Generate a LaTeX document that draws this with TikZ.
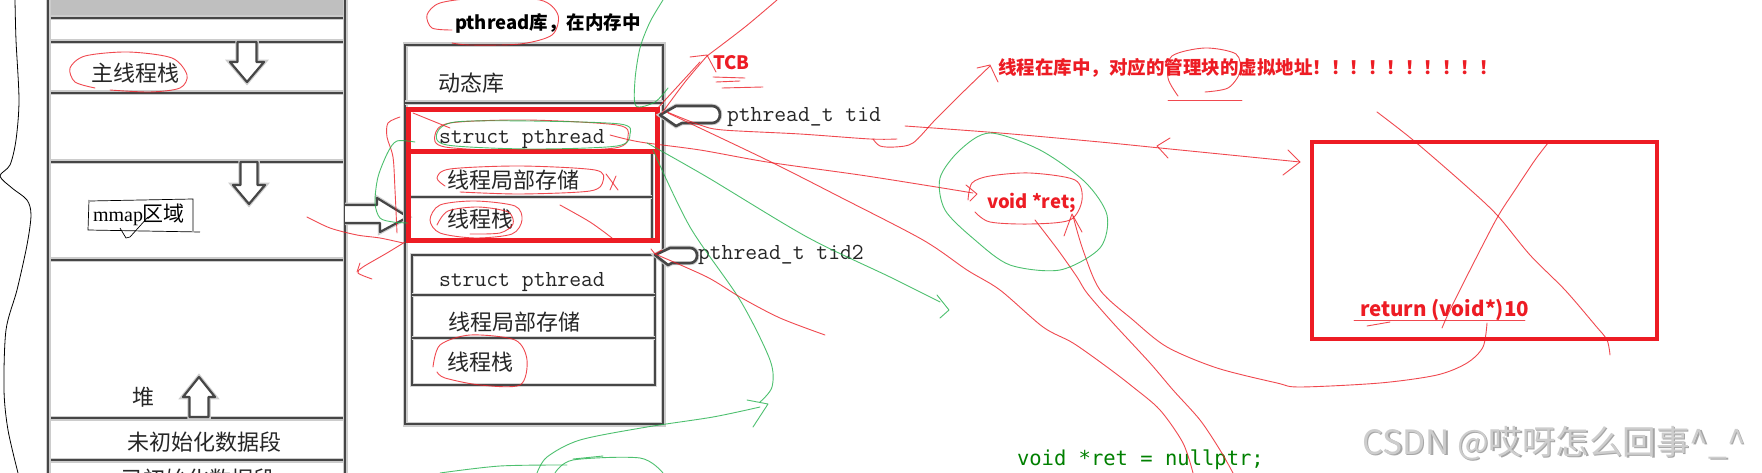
\documentclass[tikz,border=0pt]{standalone}
\usepackage{fontspec}
\newfontfamily\cjk{Noto Sans CJK SC}
\newfontfamily\serifx{Liberation Serif}
\newfontfamily\codefont{DejaVu Sans Mono}
\definecolor{pred}{RGB}{237,28,36}
\definecolor{pgreen}{RGB}{34,177,76}
\definecolor{skc}{RGB}{70,70,70}
\definecolor{codegreen}{RGB}{0,128,0}
\definecolor{wm}{RGB}{205,205,205}
\begin{document}
\begin{tikzpicture}[x=1pt,y=-1pt,
  sk/.style={draw=skc, line width=2.2pt, preaction={draw=black!20, line width=5pt}},
  skthin/.style={draw=skc, line width=1.5pt, preaction={draw=black!16, line width=3.6pt}},
  rp/.style={draw=pred, line width=0.9pt, opacity=0.8, line cap=round, line join=round},
  gp/.style={draw=pgreen, line width=0.9pt, opacity=0.8, line cap=round, line join=round},
  blk/.style={draw=skc, line width=2.2pt, fill=white, line join=round, preaction={draw=black!20, line width=4.5pt}},
  tx/.style={inner sep=0pt, outer sep=0pt},
  zh/.style={tx, font=\cjk\fontsize{22}{24}\selectfont, text=black!85},
  mono/.style={tx, anchor=west, font=\ttfamily\fontsize{23}{25}\selectfont, text=black!85},
  redb/.style={tx, anchor=west, font=\cjk\bfseries\fontsize{18.5}{20}\selectfont, text=pred}
]
\useasboundingbox (0,0) rectangle (1762,473);
\clip (0,0) rectangle (1762,473);
\fill[white] (0,0) rectangle (1762,473);

% ---------- brace ----------
\draw[black, line width=0.8pt] plot[smooth] coordinates {(15,0) (16,40) (19,100) (16,140) (10,165) (0,176) (12,188) (27,200) (31,215) (27,245) (17,290) (6,330) (4,390) (8,430) (18,473)};

% ---------- left column ----------
\fill[black!25] (48,0) rectangle (345,16);
\foreach \yy in {18,42,93,162,260,418,460} \draw[sk] (48,\yy) -- (345,\yy);
\draw[sk] (48,0) -- (48,473);
\draw[sk] (345,0) -- (345,473);

\node[zh] (zxcz) at (135,73) {主线程栈};
\node[tx] (mmap) at (139,215) {{\serifx\fontsize{20}{21}\selectfont mmap}{\cjk\fontsize{21}{22}\selectfont 区域}};
\node[zh] (dui) at (143,397) {堆};
\node[zh] (wcs) at (204,442) {未初始化数据段};
\node[zh] (ycs) at (198,479) {已初始化数据段};

% block arrows
\draw[blk] (237.5,42) -- (256.5,42) -- (256.5,62) -- (264,62) -- (247,82) -- (230,62) -- (237.5,62) -- cycle;
\draw[blk] (240.5,162) -- (257.5,162) -- (257.5,185) -- (265,185) -- (249,204) -- (233,185) -- (240.5,185) -- cycle;
\draw[blk] (189.5,417) -- (208.5,417) -- (208.5,397) -- (215,397) -- (199,377) -- (183,397) -- (189.5,397) -- cycle;
\draw[blk] (345,205) -- (377,205) -- (377,198) -- (408,217) -- (380,232) -- (380,223) -- (345,223);

% mmap box scribble
\draw[black, line width=0.7pt] (90,201) -- (193,199) -- (193,231);
\draw[black, line width=0.7pt] (89,200) -- (88,230) -- (200,232);
\draw[black, line width=0.7pt] (120,228) -- (126,238) -- (130,237) -- (148,217);

% red ellipse main stack
\draw[rp] plot[smooth] coordinates {(95,88) (75,82) (70,68) (85,56) (128,52) (172,58) (187,75) (180,88) (150,92) (110,90)};

% ---------- middle box ----------
\draw[sk] (405,45) rectangle (663,424);
\draw[sk] (405,103) -- (663,103);
\node[zh, anchor=west] (dtk) at (438,83) {动态库};

\draw[skthin] (652,152) -- (652,240);
\draw[skthin] (411,197) -- (652,197);
\draw[pred, line width=5pt] (408,110) rectangle (657,241);
\draw[pred, line width=5pt] (408,152) -- (655,152);

\node[mono] (sp1) at (439,139) {struct pthread};
\node[zh, anchor=west] (tls1) at (447,180) {线程局部存储};
\node[zh, anchor=west] (stk1) at (447,219) {线程栈};

\draw[skthin] (412,255) rectangle (655,385);
\draw[skthin] (412,295) -- (655,295);
\draw[skthin] (412,338) -- (655,338);
\node[mono] (sp2) at (439,282) {struct pthread};
\node[zh, anchor=west] (tls2) at (448,322) {线程局部存储};
\node[zh, anchor=west] (stk2) at (447,362) {线程栈};

% title
\node[tx, font=\cjk\bfseries\fontsize{18.5}{20}\selectfont, anchor=west] (title) at (455,23) {pthread库，在内存中};
\draw[rp] plot[smooth] coordinates {(452,30) (432,28) (427,15) (440,3) (480,-2) (540,0) (558,15) (552,35) (520,44) (470,45) (452,43)};

% pointer arrows
\draw[blk, line width=2.6pt] (660,115) -- (676,106) -- (712,106) to[out=0,in=0,looseness=1.6] (712,123) -- (682,123) -- (676,126) -- cycle;
\draw[blk, line width=2.6pt] (655,255) -- (670,248) -- (690,248) to[out=0,in=0,looseness=1.6] (690,263) -- (672,263) -- (668,265) -- cycle;
\node[mono] (tid) at (727,117) {pthread\_t tid};
\node[mono] (tid2) at (698,255) {pthread\_t tid2};

% TCB and red note
\node[redb] (tcb) at (713,63) {TCB};
\node[redb] (note) at (998,68) {线程在库中，对应的管理块的虚拟地址！！！！！！！！！！};

% right red box
\draw[pred, line width=4pt] (1312,142) rectangle (1657,339);
\node[redb, font=\cjk\bfseries\fontsize{20.5}{22}\selectfont] (ret10) at (1360,310) {return (void*)10};
\node[redb] (vret) at (987,203) {void *ret;};
\node[tx, anchor=west, font=\codefont\fontsize{20.5}{22}\selectfont, text=codegreen] (nullp) at (1017,460) {void *ret = nullptr;};

% watermark
\node[tx, anchor=west, font=\cjk\fontsize{33.5}{35}\selectfont, text=black!35] at (1363.5,444.5) {CSDN @哎呀怎么回事\^{}\_\^{}};
\node[tx, anchor=west, font=\cjk\fontsize{33.5}{35}\selectfont, text=wm] (wmk) at (1362,443) {CSDN @哎呀怎么回事\^{}\_\^{}};

% ---------- scribbles ----------
% green line top
\draw[gp] plot[smooth] coordinates {(663,0) (650,22) (640,48) (635,80) (636,106) (655,102) (668,88)};
% red from TCB
\draw[rp] plot[smooth] coordinates {(777,0) (745,27) (707,56)};
\draw[rp] (690,57) -- (707,55) -- (716,72);
\draw[rp] plot[smooth] coordinates {(707,56) (685,82) (662,113)};
\draw[rp] plot[smooth] coordinates {(700,62) (678,86) (656,110)};
\draw[rp] (713,77) -- (745,78);
\draw[rp] (716,82) -- (740,81);
\draw[rp] (722,88) -- (763,87);
% tid underline rising to note
\draw[rp] plot[smooth] coordinates {(667,112) (700,125) (723,130) (800,134) (870,139) (897,139)};
\draw[rp] plot[smooth] coordinates {(873,139) (880,146) (895,147) (913,143) (935,120) (960,95) (990,66)};
\draw[rp] (977,68) -- (990,65) -- (998,82);
% long arrow to right box
\draw[rp] plot[smooth] coordinates {(905,126) (1000,133) (1100,142) (1160,148) (1230,155) (1300,162)};
\draw[rp] (1288,150) -- (1300,162) -- (1283,175);
\draw[rp] (1170,138) -- (1157,146) -- (1168,158);
% manage block circle
\draw[rp] plot[smooth] coordinates {(1178,96) (1168,78) (1172,56) (1205,48) (1236,54) (1240,72) (1228,88) (1205,92)};
\draw[rp] (1168,100) -- (1242,100);
% struct pthread -> void *ret
\draw[rp] plot[smooth] coordinates {(610,135) (640,142) (700,150) (767,162) (860,175) (930,186) (973,193)};
\draw[rp] (966,185) -- (977,194) -- (970,201);
% line A
\draw[rp] plot[smooth] coordinates {(668,113) (767,160) (840,197) (923,240) (967,270) (1000,290) (1043,327) (1073,343) (1107,367) (1133,387) (1160,410) (1183,443) (1193,473)};
% line B
\draw[rp] plot[smooth] coordinates {(1035,220) (1058,250) (1077,277) (1087,293) (1113,323) (1150,363) (1173,390) (1200,420) (1220,450) (1233,473)};
% line C return -> ret
\draw[rp] plot[smooth] coordinates {(1487,323) (1483,347) (1467,363) (1437,375) (1380,383) (1300,387) (1277,383) (1217,368) (1167,347) (1133,320) (1100,290) (1083,250) (1073,216)};
\draw[rp] (1064,236) -- (1072,214) -- (1082,232);
% X in right box
\draw[rp] plot[smooth] coordinates {(1377,112) (1413,140) (1465,185) (1497,215) (1530,255) (1565,290) (1595,325) (1607,340) (1610,355)};
\draw[rp] plot[smooth] coordinates {(1548,143) (1535,160) (1515,190) (1497,218) (1470,270) (1450,310) (1442,328)};
\draw[rp] (1354,320) -- (1525,320);
\draw[rp] (1367,326) -- (1390,322);
% void *ret circles
\draw[gp] plot[smooth cycle] coordinates {(990,133) (960,150) (940,178) (945,210) (975,240) (1010,265) (1060,270) (1100,248) (1107,215) (1085,182) (1040,150)};
\draw[rp] plot[smooth] coordinates {(968,200) (972,183) (990,176) (1030,173) (1075,180) (1082,200) (1070,220) (1030,224) (990,222) (975,212)};
% green lines from red box
\draw[gp] plot[smooth] coordinates {(647,143) (707,177) (807,237) (890,277) (940,302)};
\draw[gp] (937,295) -- (949,310) -- (940,318);
\draw[gp] plot[smooth] coordinates {(653,150) (690,227) (740,300) (770,360) (772,387) (760,402)};
\draw[gp] (747,400) -- (768,404) -- (753,427);
\draw[gp] plot[smooth] coordinates {(537,473) (547,457) (580,440) (647,427) (713,417) (760,407)};
\draw[gp] plot[smooth] coordinates {(440,473) (500,466) (567,465)};
\draw[gp] plot[smooth] coordinates {(555,473) (573,460) (640,458) (663,473)};
\draw[gp] (573,459) -- (603,456);
% tid2 red line
\draw[rp] (651,249) -- (655,254) -- (662,250);
\draw[rp] plot[smooth] coordinates {(655,254) (707,277) (740,297) (780,318) (825,335)};
% scribbles left of middle box
\draw[rp] plot[smooth] coordinates {(307,217) (330,228) (357,235) (380,238) (403,243)};
\draw[rp] plot[smooth] coordinates {(405,242) (387,253) (363,267) (358,273) (372,279)};
\draw[rp] (360,263) -- (357,272);
\draw[rp] plot[smooth] coordinates {(400,117) (388,123) (387,137) (393,157) (395,190) (397,233)};
\draw[gp] plot[smooth] coordinates {(415,142) (397,141) (388,152) (378,177) (375,203) (380,218) (393,222) (408,223)};
% ellipses inside middle box
\draw[rp] plot[smooth cycle] coordinates {(435,135) (450,123) (527,120) (617,125) (628,136) (615,148) (527,151) (445,147)};
\draw[gp] plot[smooth cycle] coordinates {(437,133) (455,122) (530,121) (620,124) (630,134) (617,146) (530,149) (447,145)};
\draw[rp] plot[smooth] coordinates {(445,186) (437,178) (450,169) (520,166) (595,170) (603,181) (590,191) (520,194) (460,192)};
\draw[rp] (606,174) -- (618,190);
\draw[rp] (610,190) -- (616,176);
\draw[rp] plot[smooth cycle] coordinates {(430,220) (440,205) (475,201) (515,206) (522,220) (512,234) (475,238) (440,233)};
\draw[rp] plot[smooth] coordinates {(437,225) (448,211) (478,207) (508,212) (513,224) (500,233) (470,234)};
\draw[rp] plot[smooth] coordinates {(413,113) (450,128)};
\draw[rp] plot[smooth] coordinates {(560,205) (590,222) (612,238)};
\draw[rp] plot[smooth] coordinates {(433,367) (440,345) (470,335) (515,340) (527,360) (520,385) (480,385) (445,378) (437,372)};
\end{tikzpicture}
\end{document}
